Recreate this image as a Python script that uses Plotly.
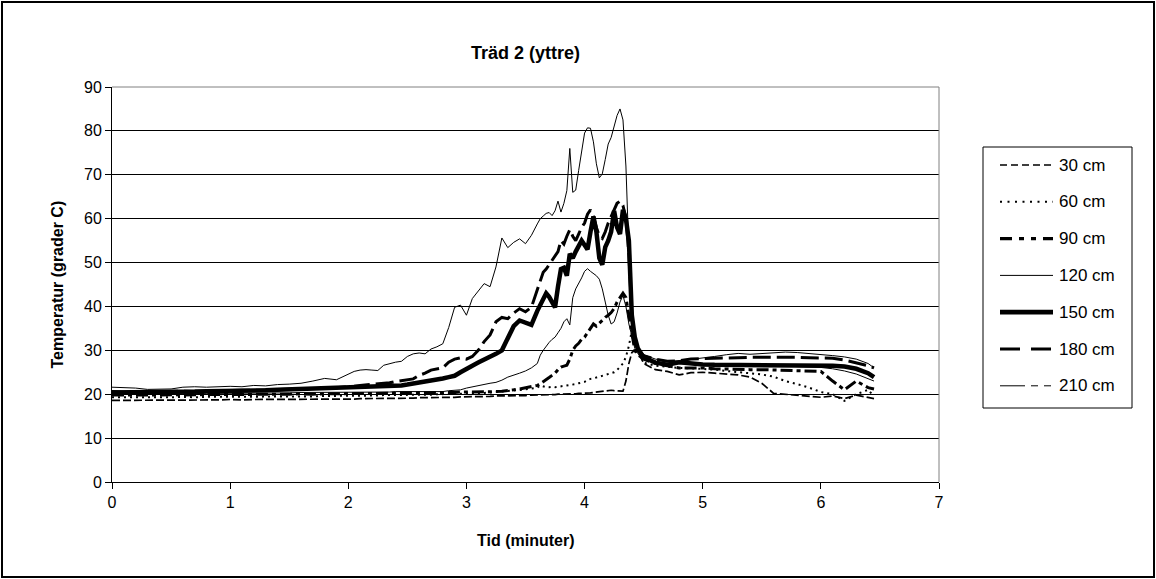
import sys
import plotly.graph_objects as go

# ---------------- data ----------------
TIME = [
    0.0, 0.1, 0.2, 0.3, 0.4, 0.5, 0.6, 0.7, 0.8, 0.9,
    1.0, 1.1, 1.2, 1.3, 1.4, 1.5, 1.6, 1.7, 1.8, 1.9,
    2.0, 2.05, 2.1, 2.15, 2.2, 2.25, 2.3, 2.35, 2.4, 2.45,
    2.5, 2.55, 2.6, 2.65, 2.7, 2.75, 2.8, 2.85, 2.9, 2.95,
    3.0, 3.05, 3.1, 3.15, 3.2, 3.25, 3.3, 3.35, 3.4, 3.45,
    3.5, 3.55,
    3.6, 3.625, 3.65, 3.675, 3.7, 3.725, 3.75, 3.775, 3.8, 3.825,
    3.85, 3.875, 3.9, 3.925, 3.95, 3.975, 4.0, 4.025, 4.05, 4.075,
    4.1, 4.125, 4.15, 4.175, 4.2, 4.225, 4.25, 4.275, 4.3, 4.325,
    4.35, 4.375, 4.4, 4.425, 4.45, 4.475,
    4.5, 4.6, 4.7, 4.8, 4.9, 5.0, 5.1, 5.2, 5.3, 5.4,
    5.5, 5.6, 5.7, 5.8, 5.9, 6.0, 6.1, 6.2, 6.3, 6.4,
    6.45,
]

T30 = [
    18.6, 18.6, 18.7, 18.6, 18.7, 18.7, 18.6, 18.7, 18.7, 18.7,
    18.8, 18.7, 18.8, 18.8, 18.8, 18.8, 18.9, 18.9, 18.9, 18.9,
    18.9, 18.9, 19.0, 19.0, 19.0, 19.0, 19.0, 19.1, 19.1, 19.1,
    19.1, 19.1, 19.2, 19.2, 19.2, 19.2, 19.3, 19.3, 19.3, 19.4,
    19.4, 19.4, 19.5, 19.5, 19.5, 19.6, 19.6, 19.6, 19.7, 19.7,
    19.7, 19.8,
    19.8, 19.8, 19.8, 19.9, 19.9, 19.9, 19.9, 20.0, 20.0, 20.0,
    20.0, 20.1, 20.1, 20.1, 20.2, 20.2, 20.2, 20.3, 20.3, 20.4,
    20.5, 20.6, 20.7, 20.8, 20.9, 20.9, 20.8, 20.8, 20.7, 20.7,
    23.0, 27.0, 29.5, 30.0, 29.5, 28.5,
    27.0, 25.6, 25.2, 24.4, 24.9, 25.0, 24.8, 24.6, 24.4, 23.9,
    22.5, 20.2, 20.0, 19.8, 19.5, 19.3, 19.6, 19.0, 19.8, 19.3,
    19.0,
]

T60 = [
    19.3, 19.3, 19.2, 19.3, 19.3, 19.3, 19.4, 19.3, 19.4, 19.4,
    19.4, 19.4, 19.5, 19.4, 19.5, 19.5, 19.5, 19.5, 19.6, 19.6,
    19.6, 19.6, 19.7, 19.7, 19.7, 19.7, 19.8, 19.8, 19.8, 19.8,
    19.8, 19.9, 19.9, 19.9, 19.9, 20.0, 20.0, 20.0, 20.1, 20.1,
    20.2, 20.2, 20.3, 20.3, 20.4, 20.5, 20.6, 20.7, 20.8, 20.9,
    21.1, 21.3,
    21.5, 22.0, 21.8, 21.6, 21.6, 21.7, 21.6, 21.7, 21.8, 21.8,
    21.9, 22.0, 22.2, 22.3, 22.5, 22.6, 22.8, 23.2, 23.5, 23.6,
    23.8, 24.0, 24.2, 24.4, 24.7, 24.9, 25.0, 25.5, 26.2, 27.0,
    28.5, 31.0, 34.5, 33.0, 30.0, 28.5,
    27.2, 26.5, 26.2, 26.0, 25.9, 25.8, 25.6, 25.3, 25.0, 24.8,
    24.5, 24.0, 23.0, 22.3, 21.5, 20.5, 20.0, 18.5, 20.0, 21.0,
    19.5,
]

T90 = [
    19.8, 19.8, 19.7, 19.8, 19.8, 19.9, 19.8, 19.9, 19.9, 19.9,
    20.0, 19.9, 20.0, 20.0, 20.0, 20.0, 20.1, 20.0, 20.1, 20.1,
    20.1, 20.1, 20.1, 20.2, 20.2, 20.2, 20.2, 20.2, 20.3, 20.3,
    20.3, 20.3, 20.3, 20.3, 20.4, 20.4, 20.4, 20.4, 20.4, 20.5,
    20.5, 20.5, 20.5, 20.5, 20.6, 20.6, 20.7, 20.8, 21.0, 21.2,
    21.5, 21.8,
    22.0, 22.4, 22.8, 23.3, 23.8, 24.3, 24.8, 25.6, 26.2, 26.4,
    26.6, 28.0, 30.0, 31.0, 31.6, 32.5, 33.0, 34.0, 35.0, 36.0,
    35.5, 36.2, 37.0, 37.5, 38.0, 38.6, 39.5, 41.0, 42.0, 43.0,
    42.0, 38.0, 33.0, 30.0, 29.0, 28.5,
    28.0, 27.0, 26.5, 26.0, 26.0, 26.0, 25.8, 25.7, 25.6, 25.6,
    25.6, 25.5, 25.4, 25.4, 25.3, 25.2, 23.0, 21.0, 23.0, 21.5,
    21.2,
]

T120 = [
    20.0, 20.0, 20.1, 20.0, 20.0, 20.1, 20.1, 20.2, 20.1, 20.2,
    20.2, 20.2, 20.3, 20.3, 20.3, 20.3, 20.4, 20.4, 20.4, 20.4,
    20.4, 20.4, 20.5, 20.5, 20.5, 20.5, 20.5, 20.5, 20.6, 20.6,
    20.6, 20.6, 20.6, 20.6, 20.6, 20.6, 20.6, 20.8, 20.9, 21.0,
    21.4, 21.7, 22.0, 22.2, 22.5, 22.7, 23.2, 23.9, 24.3, 24.8,
    25.3, 26.0,
    27.0, 28.9, 30.0, 31.0, 31.8, 32.5, 33.0, 34.0, 35.0, 36.5,
    37.2, 35.8, 42.0, 44.0, 45.2, 46.5, 48.0, 48.6, 48.0, 47.5,
    47.0, 46.2, 44.0, 41.0, 38.0, 36.0, 36.5, 38.5, 41.0, 42.5,
    40.0, 36.0, 33.0, 30.5, 29.3, 28.5,
    28.0, 27.2, 27.0, 27.0, 26.8, 26.7, 26.6, 26.5, 26.5, 26.4,
    26.4, 26.4, 26.3, 26.3, 26.2, 26.1, 25.8, 25.3, 24.6, 23.6,
    23.0,
]

T150 = [
    20.4, 20.4, 20.5, 20.4, 20.5, 20.5, 20.6, 20.6, 20.7, 20.7,
    20.8, 20.8, 20.9, 20.9, 21.0, 21.1, 21.2, 21.3, 21.4, 21.4,
    21.4, 21.5, 21.5, 21.6, 21.6, 21.7, 21.8, 21.9, 21.9, 22.0,
    22.2, 22.4, 22.7, 22.9, 23.0, 23.2, 23.6, 23.9, 24.2, 25.0,
    25.9, 26.5, 27.2, 27.8, 28.5, 29.2, 30.0, 32.8, 35.5, 36.8,
    36.4, 35.8,
    39.0, 40.3, 41.5, 43.0, 42.2, 41.0, 39.8, 44.5, 48.5, 48.8,
    47.0, 52.0, 51.0, 52.5, 54.0, 55.0, 54.0, 53.0, 57.0, 60.5,
    57.0, 51.0, 49.5, 53.5, 55.0, 57.0, 61.8, 58.0, 56.5, 62.0,
    60.0, 55.0, 38.0, 33.0, 30.5, 29.3,
    28.4, 27.2, 26.7, 27.3, 27.0, 26.8, 26.7, 26.7, 26.6, 26.6,
    26.6, 26.6, 26.6, 26.6, 26.6, 26.6, 26.5, 26.3, 25.8, 24.8,
    23.9,
]

T180 = [
    20.6, 20.5, 20.6, 20.5, 20.5, 20.6, 20.7, 20.6, 20.7, 20.8,
    20.8, 20.9, 20.9, 21.0, 21.0, 21.1, 21.2, 21.3, 21.3, 21.5,
    21.6, 21.8, 22.0, 22.1, 22.3, 22.4, 22.5, 22.6, 22.9, 23.1,
    23.3, 23.5, 24.3, 24.8, 25.5, 25.7, 26.0, 27.3, 28.0, 28.3,
    28.0, 28.6, 30.0, 32.0, 33.5, 36.5, 37.5, 37.2, 38.5, 39.5,
    38.8, 39.8,
    44.0, 46.0, 47.8, 48.5, 49.5, 50.5, 51.6, 52.5, 55.0, 54.2,
    56.0, 57.5, 56.0, 55.0, 56.5, 58.0, 59.0, 61.0, 62.0, 60.5,
    58.0, 56.0, 55.5, 57.0, 59.0, 60.5, 62.0, 63.5, 64.0, 63.0,
    60.0, 52.0, 38.0, 32.0, 30.0, 29.3,
    28.8, 28.0, 27.5, 27.6, 28.0, 28.1, 28.2, 28.3, 28.3, 28.4,
    28.4, 28.4, 28.5, 28.4, 28.3, 28.3, 28.2, 27.8, 27.2, 26.5,
    26.0,
]

T210 = [
    21.6, 21.5, 21.4, 21.1, 21.1, 21.2, 21.6, 21.7, 21.6, 21.7,
    21.8, 21.7, 22.0, 21.9, 22.2, 22.3, 22.5, 23.0, 23.6, 23.3,
    24.5, 25.2, 25.5, 25.6, 25.5, 25.4, 26.6, 27.0, 27.3, 27.5,
    28.6, 29.2, 29.4, 29.2, 30.3, 30.8, 31.5, 35.2, 39.8, 40.3,
    38.0, 41.8, 43.5, 45.2, 44.5, 49.0, 55.6, 53.4, 54.6, 55.4,
    54.3, 56.2,
    58.8, 60.0, 60.6, 61.2, 61.4, 60.7, 61.8, 64.0, 61.5, 63.5,
    66.4, 76.0, 66.0, 66.5, 71.0, 75.5, 79.5, 80.7, 80.6, 77.5,
    72.5, 69.3, 70.2, 73.5, 77.0, 78.5, 81.0, 83.5, 85.0, 82.5,
    72.0, 52.0, 33.0, 31.0, 30.0, 29.5,
    29.0, 28.0, 27.6, 27.6, 27.9, 28.2, 28.6, 29.0, 29.3, 29.1,
    29.3, 29.5, 29.6, 29.5, 29.3, 29.1, 28.8, 28.5, 28.0, 27.0,
    26.0,
]

SERIES_NAMES = ["30 cm", "60 cm", "90 cm", "120 cm", "150 cm", "180 cm", "210 cm"]
SERIES_VALUES = [T30, T60, T90, T120, T150, T180, T210]

X_TICKS = [0, 1, 2, 3, 4, 5, 6, 7]
Y_TICKS = [0, 10, 20, 30, 40, 50, 60, 70, 80, 90]

TITLE = "Träd 2 (yttre)"
X_TITLE = "Tid (minuter)"
Y_TITLE = "Temperatur (grader C)"

# ---------------- styles ----------------
PLOT_STYLE = [
    dict(width=1.7, dash="8px,3px"),
    dict(width=2.0, dash="2px,4px"),
    dict(width=3.0, dash="12px,4px,4px,4px"),
    dict(width=1.0, dash="solid"),
    dict(width=4.5, dash="solid"),
    dict(width=3.0, dash="18px,6px"),
    dict(width=1.0, dash="solid"),
]
LEGEND_STYLE = [
    dict(width=1.7, dash="7px,4px"),
    dict(width=2.0, dash="2px,5.5px"),
    dict(width=3.2, dash="12px,7px,5px,7px,5px,7px"),
    dict(width=1.0, dash="solid"),
    dict(width=4.7, dash="solid"),
    dict(width=3.2, dash="20px,11px"),
    dict(width=1.0, dash="25px,6px,7px,6px,7px,6px"),
]

FONT = "Liberation Sans, Arial, sans-serif"
W, H = 1156, 579
PL, PR, PT, PB = 112, 939, 87, 482  # plot-area edges in pixels


def px(x):
    return (x - PL) / (PR - PL)


def py(y):
    return (PB - y) / (PB - PT)


fig = go.Figure()
for name, vals, st in zip(SERIES_NAMES, SERIES_VALUES, PLOT_STYLE):
    n = min(len(TIME), len(vals))
    if len(vals) != len(TIME):
        print(f"warning: {name} has {len(vals)} values, TIME has {len(TIME)}", file=sys.stderr)
    fig.add_trace(go.Scatter(
        x=TIME[:n], y=vals[:n], mode="lines", name=name,
        line=dict(color="black", width=st["width"], dash=st["dash"]),
        showlegend=False, hoverinfo="skip",
    ))

fig.update_layout(
    width=W, height=H,
    margin=dict(l=PL, r=W - PR, t=PT, b=H - PB, pad=0),
    paper_bgcolor="white", plot_bgcolor="white",
    showlegend=False,
    font=dict(family=FONT, color="black", size=16),
    title=dict(
        text=TITLE, x=0.5, xref="paper", xanchor="center",
        y=1 - 53 / H, yref="container", yanchor="middle",
        font=dict(family=FONT, size=18, color="black", weight="bold"),
    ),
)
fig.update_xaxes(
    range=[0, 7], tickmode="array", tickvals=X_TICKS, ticktext=[str(v) for v in X_TICKS],
    showgrid=False, zeroline=False, showline=True, linecolor="black", linewidth=1,
    ticks="outside", ticklen=6, tickcolor="black", tickwidth=1,
    tickfont=dict(family=FONT, size=16, color="black"),
)
fig.update_yaxes(
    range=[0, 90], tickmode="array", tickvals=Y_TICKS, ticktext=[str(v) for v in Y_TICKS],
    showgrid=True, gridcolor="black", gridwidth=1, zeroline=False,
    showline=True, linecolor="black", linewidth=1,
    ticks="outside", ticklen=6, tickcolor="black", tickwidth=1,
    tickfont=dict(family=FONT, size=16, color="black"),
)

shapes = []
shapes.append(dict(type="line", xref="paper", yref="paper", x0=0, x1=1, y0=1, y1=1,
                   line=dict(color="#808080", width=1), layer="above"))
shapes.append(dict(type="line", xref="paper", yref="paper", x0=1, x1=1, y0=0, y1=1,
                   line=dict(color="#808080", width=1), layer="above"))
shapes.append(dict(type="rect", xref="paper", yref="paper",
                   x0=px(2), x1=px(1154), y0=py(577), y1=py(2),
                   line=dict(color="black", width=2), fillcolor="rgba(0,0,0,0)", layer="above"))
LEG_L, LEG_R, LEG_T, LEG_B = 983, 1132, 147, 408
shapes.append(dict(type="rect", xref="paper", yref="paper",
                   x0=px(LEG_L), x1=px(LEG_R), y0=py(LEG_B), y1=py(LEG_T),
                   line=dict(color="black", width=1), fillcolor="white", layer="above"))

annotations = []
for i, (name, st) in enumerate(zip(SERIES_NAMES, LEGEND_STYLE)):
    yc = 165 + 36.8 * i
    shapes.append(dict(type="line", xref="paper", yref="paper",
                       x0=px(1000), x1=px(1053), y0=py(yc), y1=py(yc),
                       line=dict(color="black", width=st["width"], dash=st["dash"]), layer="above"))
    annotations.append(dict(text=name, xref="paper", yref="paper", x=px(1057), y=py(yc),
                            xanchor="left", yanchor="middle", showarrow=False,
                            font=dict(family=FONT, size=17, color="black")))

annotations.append(dict(text=X_TITLE, xref="paper", yref="paper", x=0.5, y=py(540),
                        xanchor="center", yanchor="middle", showarrow=False,
                        font=dict(family=FONT, size=16, color="black", weight="bold")))
annotations.append(dict(text=Y_TITLE, xref="paper", yref="paper", x=px(57), y=0.5,
                        xanchor="center", yanchor="middle", showarrow=False, textangle=-90,
                        font=dict(family=FONT, size=16, color="black", weight="bold")))

fig.update_layout(shapes=shapes, annotations=annotations)
fig.write_html(
    "out.html",
    config={"displayModeBar": False},
    post_script="document.body.style.margin='0';document.body.style.overflow='hidden';",
)
